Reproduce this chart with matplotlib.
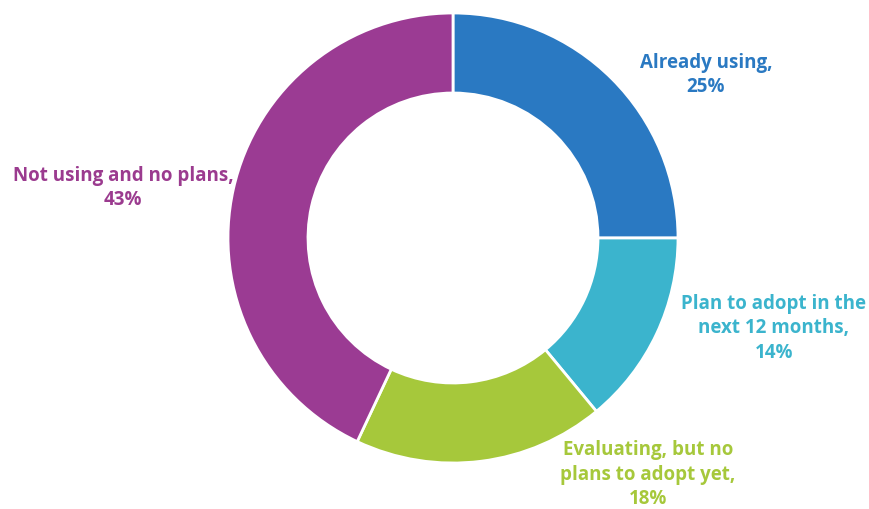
import matplotlib
matplotlib.use("Agg")
import matplotlib.pyplot as plt

categories = ["Already using", "Plan to adopt in the next 12 months",
              "Evaluating, but no plans to adopt yet", "Not using and no plans"]
values = [25, 14, 18, 43]
labels = ["Already using,\n25%", "Plan to adopt in the\nnext 12 months,\n14%",
          "Evaluating, but no\nplans to adopt yet,\n18%", "Not using and no plans,\n43%"]
colors = ["#2A79C2", "#3BB4CD", "#A6C83B", "#9B3B93"]
text_colors = ["#2A79C2", "#3BB4CD", "#A6C83B", "#9B3B8F"]

W, H = 870, 509
fig = plt.figure(figsize=(W / 100, H / 100), dpi=100)
ax = fig.add_axes([0, 0, 1, 1])

cx, cy = 453, H - 238
R = 225
ax.pie(values, colors=colors, startangle=90, counterclock=False,
       radius=R, center=(cx, cy), frame=True,
       wedgeprops=dict(width=80, edgecolor="white", linewidth=2))
ax.set_xlim(0, W)
ax.set_ylim(0, H)
ax.set_aspect("equal")
ax.axis("off")

label_pos = [(706, 75), (774, 328), (648, 475), (123, 188)]
for lab, (px, py), c in zip(labels, label_pos, text_colors):
    ax.text(px, H - py, lab, ha="center", va="center", color=c,
            fontsize=13.5, fontweight="bold", family="Open Sans",
            linespacing=1.3)

fig.savefig("out.png", dpi=100)
